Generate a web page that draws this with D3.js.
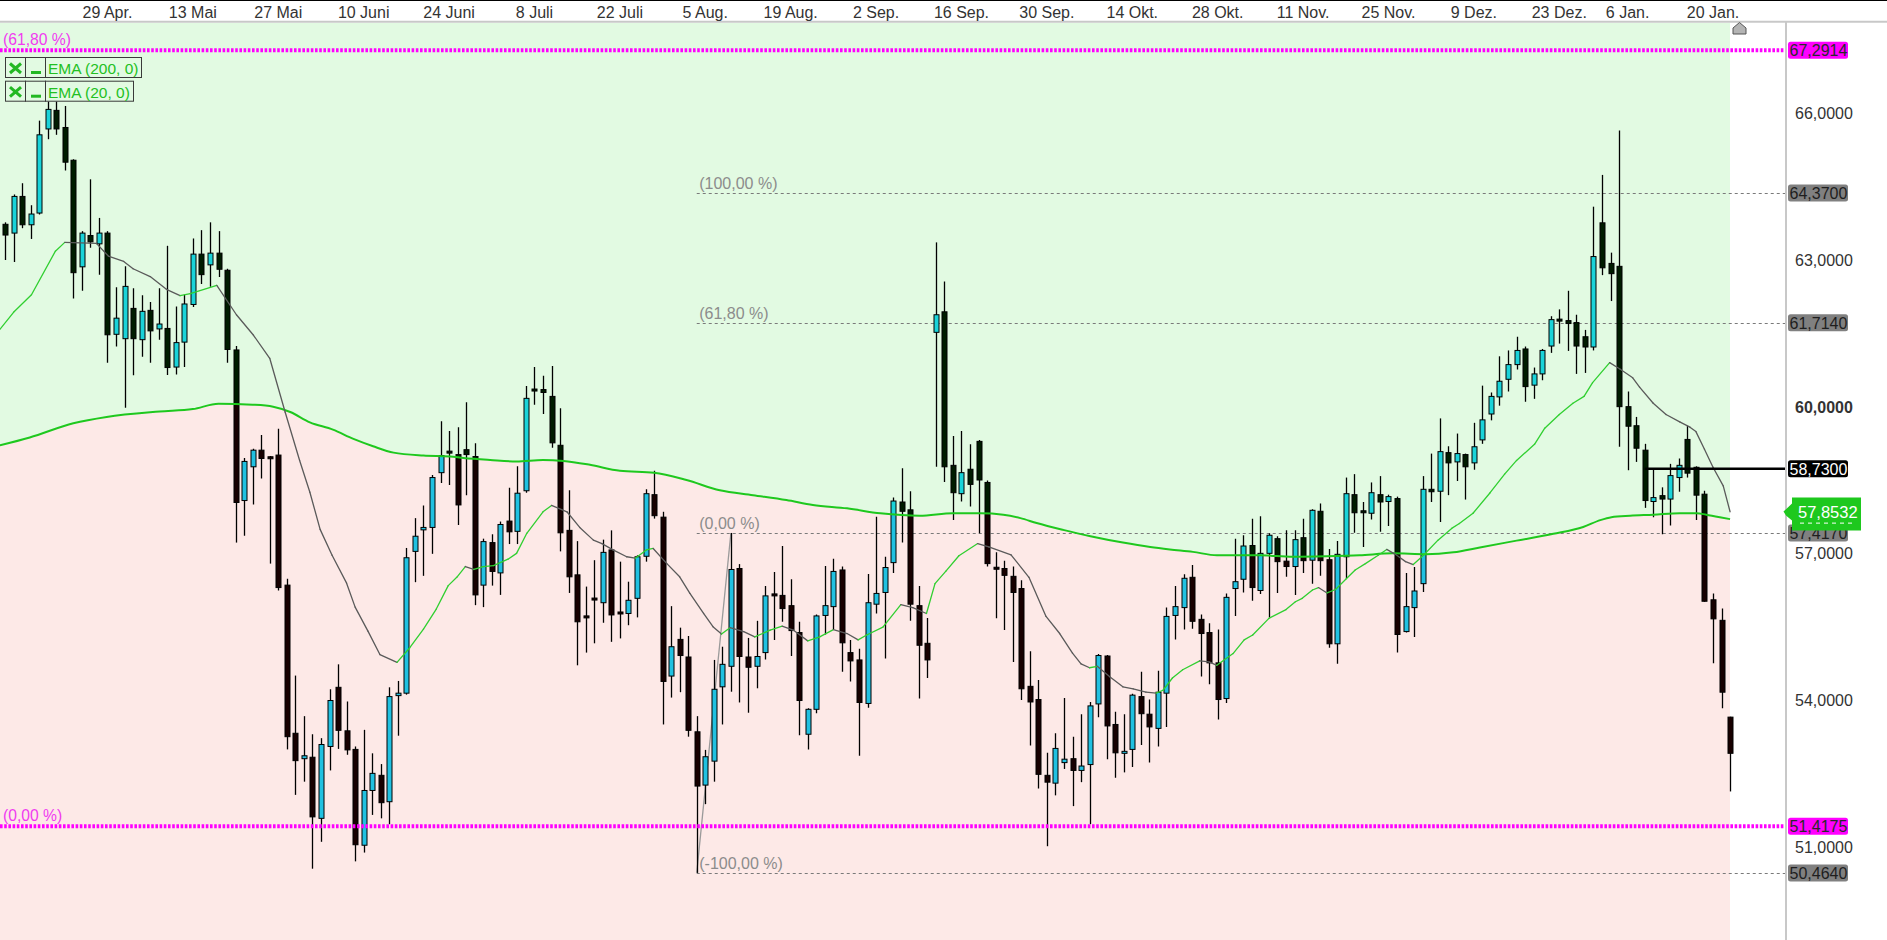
<!DOCTYPE html>
<html><head><meta charset="utf-8">
<script src="https://cdn.jsdelivr.net/npm/d3@7"></script>
<style>html,body{margin:0;padding:0;background:#fff;overflow:hidden}svg{display:block}text{font-family:"Liberation Sans",Arial,sans-serif}</style>
</head><body><svg id="c" width="1887" height="940"></svg>
<script>
// ---------------- DATA ----------------
const startDate = "2024-04-11";
const holidays = ["2024-12-25", "2025-01-01"];

const open = [63.73,63.55,64.30,63.72,63.96,65.68,66.06,65.71,65.04,62.86,
63.50,63.33,63.55,61.48,61.39,62.01,61.37,61.97,61.59,61.60,
60.81,61.32,62.09,63.12,62.90,63.14,62.79,61.16,58.08,58.77,
59.11,58.97,59.01,56.35,53.32,52.80,52.83,51.58,53.05,54.26,
53.37,52.99,51.03,52.15,52.46,51.92,54.09,54.14,57.04,57.48,
57.53,58.65,59.08,59.02,59.12,58.98,56.35,57.22,56.60,57.66,
57.45,58.28,60.35,60.35,60.21,59.21,57.47,56.56,55.71,56.08,
55.99,57.07,55.79,55.77,56.08,56.94,58.20,57.74,54.49,55.24,
54.88,53.35,52.26,52.75,54.27,54.69,56.69,54.88,54.69,54.97,
56.16,56.14,55.93,55.38,53.30,53.81,55.73,55.91,56.66,54.97,
54.82,53.93,55.96,56.20,56.81,58.05,57.89,55.93,55.16,61.52,
61.94,58.80,58.22,58.72,59.29,58.45,56.71,56.69,56.53,56.28,
54.28,54.01,52.46,52.30,52.72,52.80,52.56,52.68,53.92,54.90,
53.50,52.91,52.99,54.07,53.71,53.42,54.14,55.73,55.89,56.51,
55.65,55.38,54.76,54.03,56.28,56.47,57.16,56.24,57.00,57.30,
56.84,56.73,57.32,56.86,57.86,56.87,55.15,56.93,58.20,57.86,
57.82,58.20,58.06,58.12,55.40,55.89,56.38,58.31,58.27,59.06,
58.87,59.02,58.85,59.32,59.85,60.20,60.56,60.86,61.18,60.44,
60.67,61.24,61.78,61.76,61.72,61.43,61.22,63.76,62.93,62.87,
60.00,59.61,59.11,58.06,58.18,58.11,58.55,59.33,58.76,58.21,
56.05,55.63,53.65];

const high = [63.77,64.34,64.57,64.12,65.85,66.24,66.24,66.15,65.06,63.59,
64.65,63.86,63.59,62.44,62.87,62.42,62.28,62.14,62.42,63.29,
62.05,62.29,63.44,63.61,63.77,63.59,62.82,61.24,58.95,59.14,
59.42,58.99,59.55,56.48,54.50,53.67,53.30,53.22,54.22,54.73,
53.97,53.05,53.39,52.91,52.69,54.26,54.39,57.11,57.72,57.98,
58.60,59.70,59.50,59.58,60.09,59.25,57.30,57.39,57.65,58.34,
58.78,60.42,60.81,60.63,60.83,59.97,58.29,57.25,56.32,56.86,
57.28,57.47,56.83,56.42,56.96,58.31,58.69,57.85,55.92,55.48,
55.31,53.67,52.98,54.82,55.09,57.417,56.78,55.27,55.62,56.33,
56.62,57.15,56.47,55.60,53.83,55.75,56.74,56.89,56.73,55.23,
55.05,56.58,57.75,56.93,58.14,58.74,58.27,56.33,55.68,63.36,
62.56,59.40,59.50,59.23,59.32,58.49,57.02,56.85,56.73,56.45,
55.00,54.41,52.92,53.32,54.04,53.25,53.71,53.96,54.94,54.92,
53.76,53.71,54.13,54.58,54.01,54.60,55.89,56.33,56.57,56.76,
55.75,55.57,55.44,56.18,57.30,57.37,57.71,57.76,57.41,57.35,
57.47,57.47,57.71,57.90,58.02,57.09,57.25,58.55,58.62,58.05,
58.45,58.58,58.20,58.16,56.60,56.72,58.58,59.04,59.76,59.19,
59.45,59.04,59.67,60.43,60.29,61.03,61.15,61.43,61.23,60.80,
61.18,61.85,61.99,62.37,61.88,61.57,64.09,64.74,63.15,65.65,
60.31,59.79,59.24,58.73,58.35,58.83,58.94,59.61,58.78,58.28,
56.18,55.87,53.66];

const low = [63.00,62.96,63.65,63.43,63.93,65.47,65.56,64.83,62.21,62.37,
63.25,62.70,60.90,61.23,59.98,60.64,61.02,60.90,61.37,60.65,
60.66,60.81,62.04,62.51,62.45,62.65,60.90,57.22,57.36,58.00,
58.53,56.79,56.24,52.99,52.06,52.33,50.55,51.10,52.56,53.00,
52.88,50.70,50.88,51.65,51.58,51.46,53.27,54.11,56.41,56.54,
56.99,58.44,58.40,57.58,58.19,55.94,55.90,56.34,56.15,57.19,
57.19,58.24,60.04,59.85,59.16,57.04,56.19,54.71,54.97,55.16,
55.58,55.19,55.26,55.53,55.69,56.83,57.71,53.50,54.05,54.16,
53.25,50.464,51.87,52.33,53.50,54.17,53.95,53.74,54.24,54.83,
55.23,55.60,54.90,53.28,52.99,53.73,55.34,55.44,54.58,54.38,
52.86,53.84,55.77,54.85,56.60,57.22,55.62,54.03,54.45,58.77,
58.46,57.68,58.06,57.96,57.41,56.73,55.67,55.43,54.78,54.00,
53.07,52.19,51.01,52.05,52.59,51.83,52.32,51.46,53.65,52.79,
52.41,52.52,52.63,53.08,52.72,53.05,53.45,55.24,55.44,55.46,
54.48,54.32,53.60,53.94,55.72,56.20,56.03,56.17,55.69,56.19,
56.52,56.15,56.60,56.38,56.54,55.07,54.74,56.49,57.42,57.13,
57.69,57.44,57.56,54.97,55.38,55.29,56.21,58.05,57.64,58.19,
58.48,58.10,58.71,59.24,59.72,60.02,60.31,60.76,60.10,60.16,
60.54,61.10,61.29,61.14,60.67,60.69,61.15,62.69,62.16,59.18,
58.70,58.87,57.93,57.74,57.39,57.57,58.26,58.55,57.68,56.01,
54.75,53.83,52.13];

const close = [63.51,64.30,63.72,63.94,65.56,66.08,65.68,65.00,62.74,63.55,
63.37,63.55,61.47,61.81,62.46,61.39,61.95,61.55,61.69,60.80,
61.31,62.10,63.12,62.70,63.14,62.81,61.17,58.04,58.88,59.11,
58.94,58.94,56.30,53.25,52.76,52.86,51.61,53.09,53.99,53.38,
52.98,51.04,52.15,52.50,51.90,54.07,54.14,56.91,57.35,57.53,
58.55,59.00,59.06,57.99,59.02,56.15,57.24,56.63,57.59,57.44,
58.23,60.17,60.33,60.29,59.26,57.42,56.52,55.60,55.69,56.05,
57.02,55.74,55.77,56.04,56.93,58.22,57.77,54.38,55.09,54.91,
53.38,52.24,52.84,54.22,54.73,56.67,54.89,54.67,54.89,56.13,
56.14,55.87,55.42,53.99,53.81,55.72,55.93,56.63,55.17,54.80,
53.95,55.99,56.18,56.71,58.07,57.86,55.96,55.12,54.82,61.88,
58.77,58.24,58.65,58.41,58.50,56.79,56.68,56.55,56.20,54.23,
53.96,52.48,52.32,53.01,52.79,52.56,52.65,53.88,54.91,53.47,
52.92,52.95,54.10,53.72,53.45,54.16,55.71,55.91,56.49,55.61,
55.36,54.76,54.01,56.10,56.42,57.15,56.30,57.00,57.37,56.83,
56.73,57.28,56.85,57.88,56.85,55.15,56.98,58.22,57.83,57.84,
58.24,58.05,58.16,55.34,55.91,56.23,58.31,58.26,59.08,58.85,
59.04,58.77,59.18,59.73,60.21,60.52,60.86,61.15,60.41,60.67,
61.15,61.78,61.76,61.70,61.24,61.22,63.07,62.84,62.72,60.00,
59.60,59.15,58.08,58.14,58.11,58.59,58.80,58.64,58.19,56.02,
55.66,54.16,52.91];

// EMA readings (candle index, value)
const ema200At = [-0.6,2.9,8.0,11.9,18.1,22.0,25.0,29.0,31.4,33.4,35.7,38.4,40.8,43.1,45.5,49.0,52.1,53.7,56.8,59.9,63.0,65.4,68.5,72.0,76.0,79.8,83.7,87.6,91.5,94.6,98.6,102.5,107.1,111.0,114.2,116.9,118.9,120.8,123.9,127.1,130.9,134.1,136.4,139.1,141.9,146.9,150.8,154.7,158.6,162.5,166.4,169.6,172.7,177.0,181.3,184.8,186.8,188.1,190.3,193.0,196.1,198.1,199.2,200.8,202.0];
const ema200 = [59.21,59.37,59.66,59.79,59.90,59.95,60.06,60.04,60.00,59.89,59.68,59.53,59.34,59.19,59.06,59.00,58.98,58.95,58.91,58.88,58.91,58.89,58.81,58.69,58.65,58.50,58.29,58.19,58.09,57.99,57.92,57.82,57.77,57.82,57.82,57.79,57.72,57.62,57.48,57.35,57.22,57.13,57.08,57.03,56.96,56.96,56.93,56.94,56.96,57.00,56.98,57.02,57.12,57.26,57.40,57.54,57.68,57.74,57.77,57.79,57.82,57.82,57.79,57.74,57.70];

const ema20At = [-0.6,1.0,3.1,5.9,7.0,10.7,12.1,13.9,15.0,17.0,18.9,20.5,21.7,24.8,27.1,29.1,31.0,32.8,34.5,35.7,36.9,38.3,40.0,41.0,42.5,43.9,45.9,47.4,49.0,50.5,51.9,52.9,53.9,54.9,56.0,57.2,58.9,59.9,61.1,63.0,64.0,65.8,67.3,68.9,69.9,71.2,72.8,73.8,75.1,75.9,77.5,79.0,80.2,81.8,82.9,83.9,84.9,86.5,87.8,89.6,91.0,92.3,94.0,95.4,97.0,98.6,99.9,100.9,102.8,104.9,106.3,107.9,108.9,110.2,111.7,113.9,115.2,117.8,119.9,121.9,123.5,125.0,126.0,127.0,127.9,129.4,130.9,132.1,133.6,134.8,135.6,136.7,137.9,139.9,141.0,141.9,143.8,145.1,146.1,148.0,150.0,151.1,151.9,153.1,153.8,154.8,155.8,157.0,158.1,159.3,160.8,161.8,162.8,164.0,164.9,166.1,167.8,169.4,170.3,171.9,173.9,175.6,177.0,179.1,180.3,182.0,183.6,184.9,185.9,187.9,189.1,190.6,191.4,193.0,194.5,196.1,197.3,198.0,199.0,200.0,201.2,202.0];
const ema20 = [61.58,61.93,62.29,63.18,63.36,63.34,63.08,62.97,62.82,62.66,62.40,62.27,62.31,62.48,61.88,61.46,60.99,59.89,58.90,58.25,57.49,56.96,56.39,55.90,55.41,54.93,54.77,55.07,55.45,55.86,56.34,56.51,56.73,56.67,56.73,56.75,56.88,57.00,57.41,57.85,57.98,57.85,57.53,57.27,57.20,57.07,56.93,56.90,57.07,57.10,56.79,56.52,56.18,55.77,55.50,55.35,55.48,55.40,55.29,55.43,55.51,55.43,55.21,55.29,55.44,55.36,55.23,55.33,55.49,55.95,55.89,55.77,56.38,56.64,56.95,57.20,57.13,56.97,56.51,55.71,55.36,54.96,54.74,54.66,54.69,54.47,54.27,54.23,54.16,54.14,54.20,54.45,54.62,54.80,54.78,54.71,54.95,55.23,55.33,55.67,55.85,56.01,56.08,56.25,56.30,56.19,56.26,56.47,56.66,56.79,56.96,57.08,56.98,56.83,56.77,56.96,57.27,57.51,57.61,57.82,58.24,58.62,58.90,59.23,59.56,59.84,60.07,60.21,60.49,60.90,60.77,60.59,60.40,60.07,59.84,59.69,59.58,59.49,59.13,58.76,58.38,57.85];

const tickDates = ["2024-04-29","2024-05-13","2024-05-27","2024-06-10","2024-06-24","2024-07-08","2024-07-22","2024-08-05","2024-08-19","2024-09-02","2024-09-16","2024-09-30","2024-10-14","2024-10-28","2024-11-11","2024-11-25","2024-12-09","2024-12-23","2025-01-06","2025-01-20"];
const tickLabels = ["29 Apr.","13 Mai","27 Mai","10 Juni","24 Juni","8 Juli","22 Juli","5 Aug.","19 Aug.","2 Sep.","16 Sep.","30 Sep.","14 Okt.","28 Okt.","11 Nov.","25 Nov.","9 Dez.","23 Dez.","6 Jan.","20 Jan."];

const priceTicks = [51, 54, 57, 60, 63, 66];
const boldTick = 60;

const fibOuter = [67.2914, 51.4175];
const fibOuterLabels = ["(61,80 %)", "(0,00 %)"];
const fibInner = [64.37, 61.714, 57.417, 50.464];
const fibInnerLabels = ["(100,00 %)", "(61,80 %)", "(0,00 %)", "(-100,00 %)"];
const fibLowIdx = 81, fibHighIdx = 85;
const hLineValue = 58.73, hLineStartIdx = 192;
const lastEma20Value = 57.8532;

const legendItems = ["EMA (200, 0)", "EMA (20, 0)"];

// ---------------- BUILD ----------------
const n = close.length;
const dates = [];
{
  const d = new Date(startDate + "T00:00:00Z");
  while (dates.length < n) {
    const s = d.toISOString().slice(0, 10), wd = d.getUTCDay();
    if (wd !== 0 && wd !== 6 && !holidays.includes(s)) dates.push(s);
    d.setUTCDate(d.getUTCDate() + 1);
  }
}

const W = 1887, H = 940, plotTop = 23, axisX = 1786;
const svg = d3.select("#c");
const defs = svg.append("defs");

const x = d3.scaleBand().domain(dates).range([0.73, 1734.35]).paddingInner(0.3).paddingOuter(0.15);
const y = d3.scaleLinear().domain([51, 66]).range([846.7, 113.3]);
const cx = i => x(dates[i]) + x.bandwidth() / 2;
const cxf = t => cx(0) + t * x.step();
const lastX = cx(n - 1);

const fmt = v => v.toFixed(4).replace(".", ",");

// EMA200 points extended
const e200 = ema200At.map((t, k) => [cxf(t), y(ema200[k])]);
const e200ext = [[-20, e200[0][1]], ...e200, [W + 20, e200[e200.length - 1][1]]];
const areaAbove = d3.area().x(d => d[0]).y0(0).y1(d => d[1]).curve(d3.curveMonotoneX);
const areaBelow = d3.area().x(d => d[0]).y0(H).y1(d => d[1]).curve(d3.curveMonotoneX);

defs.append("clipPath").attr("id", "cA").append("path").attr("d", areaAbove(e200ext));
defs.append("clipPath").attr("id", "cB").append("path").attr("d", areaBelow(e200ext));
defs.append("clipPath").attr("id", "cBg").append("rect").attr("x", 0).attr("y", plotTop).attr("width", lastX).attr("height", H - plotTop);

// Background zones
const bg = svg.append("g").attr("clip-path", "url(#cBg)");
bg.append("path").attr("d", areaAbove(e200ext)).attr("fill", "#e2fae2");
bg.append("path").attr("d", areaBelow(e200ext)).attr("fill", "#fde9e7");

// Inner fib lines (gray dashed)
const fibG = svg.append("g");
fibInner.forEach((v, k) => {
  fibG.append("line").attr("x1", cx(fibLowIdx)).attr("x2", axisX).attr("y1", Math.round(y(v)) + 0.5).attr("y2", Math.round(y(v)) + 0.5)
    .attr("stroke", "#7a7a7a").attr("stroke-width", 1).attr("stroke-dasharray", "3,3");
  fibG.append("text").attr("x", cx(fibLowIdx) + 2.5).attr("y", y(v) - 4).attr("font-size", 16).attr("fill", "#8c8c8c").text(fibInnerLabels[k]);
});
fibG.append("line").attr("x1", cx(fibLowIdx)).attr("y1", y(fibInner[3])).attr("x2", cx(fibHighIdx)).attr("y2", y(fibInner[2]))
  .attr("stroke", "#9a9a9a").attr("stroke-width", 1.3);

// Candles
function drawCandles(clipId, upFill, downFill) {
  const g = svg.append("g").attr("clip-path", `url(#${clipId})`);
  for (let i = 0; i < n; i++) {
    const xc = Math.round(cx(i)) + 0.5;
    g.append("line").attr("x1", xc).attr("x2", xc).attr("y1", y(high[i])).attr("y2", y(low[i]))
      .attr("stroke", "#000").attr("stroke-width", 1.3);
    const up = close[i] > open[i];
    const top = y(Math.max(open[i], close[i])), bot = y(Math.min(open[i], close[i]));
    const h = Math.max(2, bot - top);
    g.append("rect").attr("x", xc - 2.5).attr("width", 5).attr("y", top - (h - (bot - top)) / 2).attr("height", h)
      .attr("fill", up ? upFill : downFill).attr("stroke", "#000").attr("stroke-width", 1);
  }
}
drawCandles("cA", "#1ad3d9", "#001c00");
drawCandles("cB", "#21c1e1", "#170000");

// EMA200
svg.append("path").attr("d", d3.line().curve(d3.curveMonotoneX)(e200)).attr("fill", "none")
  .attr("stroke", "#1ec81e").attr("stroke-width", 2);

// EMA20, colored by slope
const e20 = ema20At.map((t, k) => [cxf(t), y(ema20[k])]);
for (let k = 0; k < e20.length - 1; k++) {
  const rising = ema20[k + 1] > ema20[k];
  svg.append("line").attr("x1", e20[k][0]).attr("y1", e20[k][1]).attr("x2", e20[k + 1][0]).attr("y2", e20[k + 1][1])
    .attr("stroke", rising ? "#30cf30" : "#5a5a5a").attr("stroke-width", 1.3).attr("stroke-linecap", "round");
}

// Outer fib (magenta dotted)
fibOuter.forEach((v, k) => {
  svg.append("line").attr("x1", 0).attr("x2", axisX).attr("y1", y(v)).attr("y2", y(v))
    .attr("stroke", "#ff00ff").attr("stroke-width", 4).attr("stroke-dasharray", "2.6,1.6");
  svg.append("text").attr("x", 3).attr("y", y(v) - 5).attr("font-size", 15.7).attr("fill", "#f03cf0").text(fibOuterLabels[k]);
});

// Horizontal black line
svg.append("line").attr("x1", cx(hLineStartIdx)).attr("x2", axisX).attr("y1", y(hLineValue)).attr("y2", y(hLineValue))
  .attr("stroke", "#000").attr("stroke-width", 2.5);

// Header
svg.append("rect").attr("x", 0).attr("y", 0).attr("width", W).attr("height", 21).attr("fill", "#fff");
svg.append("line").attr("x1", 0).attr("x2", W).attr("y1", 0.5).attr("y2", 0.5).attr("stroke", "#000").attr("stroke-width", 1);
svg.append("line").attr("x1", 0).attr("x2", W).attr("y1", 21.7).attr("y2", 21.7).attr("stroke", "#c8c8c8").attr("stroke-width", 2);
tickDates.forEach((d, k) => {
  const i = dates.indexOf(d);
  if (i < 0) return;
  svg.append("text").attr("x", cx(i)).attr("y", 18).attr("text-anchor", "middle").attr("font-size", 16).attr("fill", "#333").text(tickLabels[k]);
});

// Right axis
svg.append("line").attr("x1", axisX).attr("x2", axisX).attr("y1", 22).attr("y2", H).attr("stroke", "#c8c8c8").attr("stroke-width", 2);
priceTicks.forEach(v => {
  svg.append("text").attr("x", 1795).attr("y", y(v) + 6).attr("font-size", 16).attr("fill", "#333")
    .attr("font-weight", v === boldTick ? "bold" : "normal").text(fmt(v));
});

// Price tags
function tag(v, bgc, fg) {
  const yc = y(v);
  svg.append("rect").attr("x", 1788).attr("y", yc - 8.5).attr("width", 60).attr("height", 17).attr("rx", 2.5).attr("fill", bgc);
  svg.append("text").attr("x", 1789.5).attr("y", yc + 6).attr("font-size", 16).attr("fill", fg).text(fmt(v));
}
fibInner.forEach(v => tag(v, "#808080", "#1e1e1e"));
tag(hLineValue, "#000", "#fff");
fibOuter.forEach(v => tag(v, "#ff00ff", "#2a2a2a"));

// Green EMA20 tag
{
  const yc = y(lastEma20Value);
  const t = yc - 14, b = yc + 19;
  svg.append("polygon").attr("points", [[1792, t], [1861, t], [1861, b], [1792, b], [1792, yc + 9], [1786, yc + 4], [1783.5, yc], [1792, t + 6]].map(p => p.join(",")).join(" "))
    .attr("fill", "#1ec81e");
  svg.append("text").attr("x", 1798).attr("y", yc + 6).attr("font-size", 16.5).attr("fill", "#fff").text(fmt(lastEma20Value));
  svg.append("line").attr("x1", 1800).attr("x2", 1856).attr("y1", yc + 11.5).attr("y2", yc + 11.5)
    .attr("stroke", "#fff").attr("stroke-width", 1).attr("stroke-dasharray", "4,4");
}

// Top-right icon
svg.append("polygon").attr("points", "1739.5,22.5 1746,28 1746,34 1733,34 1733,28").attr("fill", "#b4b4b4").attr("stroke", "#555").attr("stroke-width", 1);

// Legend
legendItems.forEach((s, k) => {
  const oy = 57.5 + k * 23.7;
  const g = svg.append("g");
  g.append("rect").attr("x", 5.5).attr("y", oy).attr("width", 20).attr("height", 20).attr("fill", "none").attr("stroke", "#3a3a3a");
  g.append("rect").attr("x", 25.5).attr("y", oy).attr("width", 20).attr("height", 20).attr("fill", "none").attr("stroke", "#3a3a3a");
  const tw = k === 0 ? 96 : 88;
  g.append("rect").attr("x", 45.5).attr("y", oy).attr("width", tw).attr("height", 20).attr("fill", "none").attr("stroke", "#3a3a3a");
  g.append("path").attr("d", `M10,${oy + 6} L21,${oy + 15.5} M21,${oy + 6} L10,${oy + 15.5}`).attr("stroke", "#22b822").attr("stroke-width", 3);
  g.append("rect").attr("x", 31).attr("y", oy + 13.5).attr("width", 10).attr("height", 3).attr("fill", "#22b822");
  g.append("text").attr("x", 48).attr("y", oy + 16.5).attr("font-size", 15.5).attr("fill", "#22c022").text(s);
});
</script></body></html>
